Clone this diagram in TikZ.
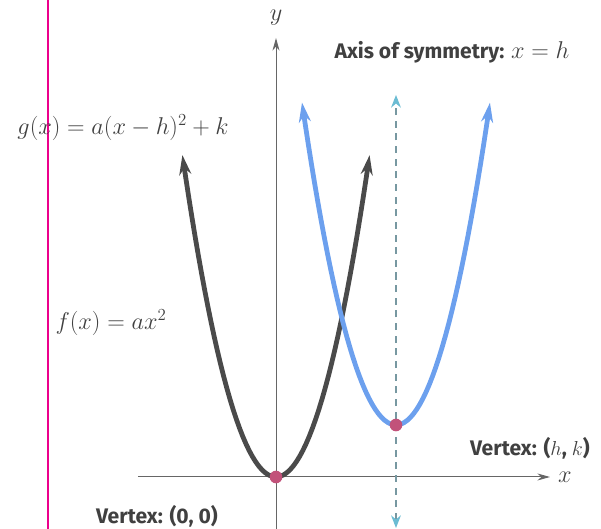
\documentclass[tikz,border=0pt]{standalone}
\usepackage{fontspec}
\usetikzlibrary{arrows.meta}
\newfontfamily\lblfont{Fira Sans}
\definecolor{parabgray}{HTML}{4A4A4A}
\definecolor{parabblue}{HTML}{6CA0EE}
\definecolor{symcyan}{HTML}{6BBCD3}
\definecolor{vtxred}{HTML}{C2527A}
\tikzset{
  lbl/.style={font=\lblfont\bfseries\fontsize{15}{18}\selectfont,text=black!75},
  eqn/.style={font=\fontsize{17}{20}\selectfont,text=black!75},
  curve/.style={line width=3.4pt,{Stealth[length=14pt,width=8.5pt]}-{Stealth[length=14pt,width=8.5pt]}},
  vtx/.style={circle,fill=vtxred,inner sep=0pt,minimum size=9pt}
}
\begin{document}
\begin{tikzpicture}[x=1cm,y=1cm]
\useasboundingbox (-6.9,-1.3) rectangle (8.125,11.925);
\draw[magenta,line width=1.2pt] (-5.7,-1.3) -- (-5.7,11.925);
% axes
\draw[gray!80!black,line width=0.7pt,-{Stealth[length=9pt,width=5pt]}] (-3.45,0) -- (6.85,0);
\draw[gray!80!black,line width=0.7pt,-{Stealth[length=9pt,width=5pt]}] (0,-1.3) -- (0,10.975);
\node[eqn] (xlab) at (7.225,0) {$x$};
\node[eqn] (ylab) at (0,11.475) {$y$};
% axis of symmetry
\draw[gray!60!symcyan,line width=0.8pt,dash pattern=on 5pt off 4pt,{Stealth[length=9pt,width=7pt,color=symcyan]}-{Stealth[length=9pt,width=7pt,color=symcyan]}] (3,-1.275) -- (3,9.55);
\node[lbl] (axislab) at (4.4,10.625) {Axis of symmetry: \normalfont\fontsize{16}{20}\selectfont$x = h$};
% parabolas
\draw[curve,parabgray] plot[domain=-2.34:2.34,samples=60] (\x,{1.47*\x*\x});
\draw[curve,parabblue] plot[domain=-2.35:2.35,samples=60] ({3+\x},{1.3+1.46*\x*\x});
\node[vtx] (v00) at (0,0) {};
\node[vtx] (vhk) at (3,1.3) {};
\node[eqn] (glab) at (-3.825,8.725) {$g(x) = a(x - h)^2 + k$};
\node[eqn] (flab) at (-4.125,3.85) {$f(x) = ax^2$};
\node[lbl] (vhklab) at (6.35,0.725) {Vertex: ($h$, $k$)};
\node[lbl] (v00lab) at (-2.975,-0.975) {Vertex: (0, 0)};
\end{tikzpicture}
\end{document}
